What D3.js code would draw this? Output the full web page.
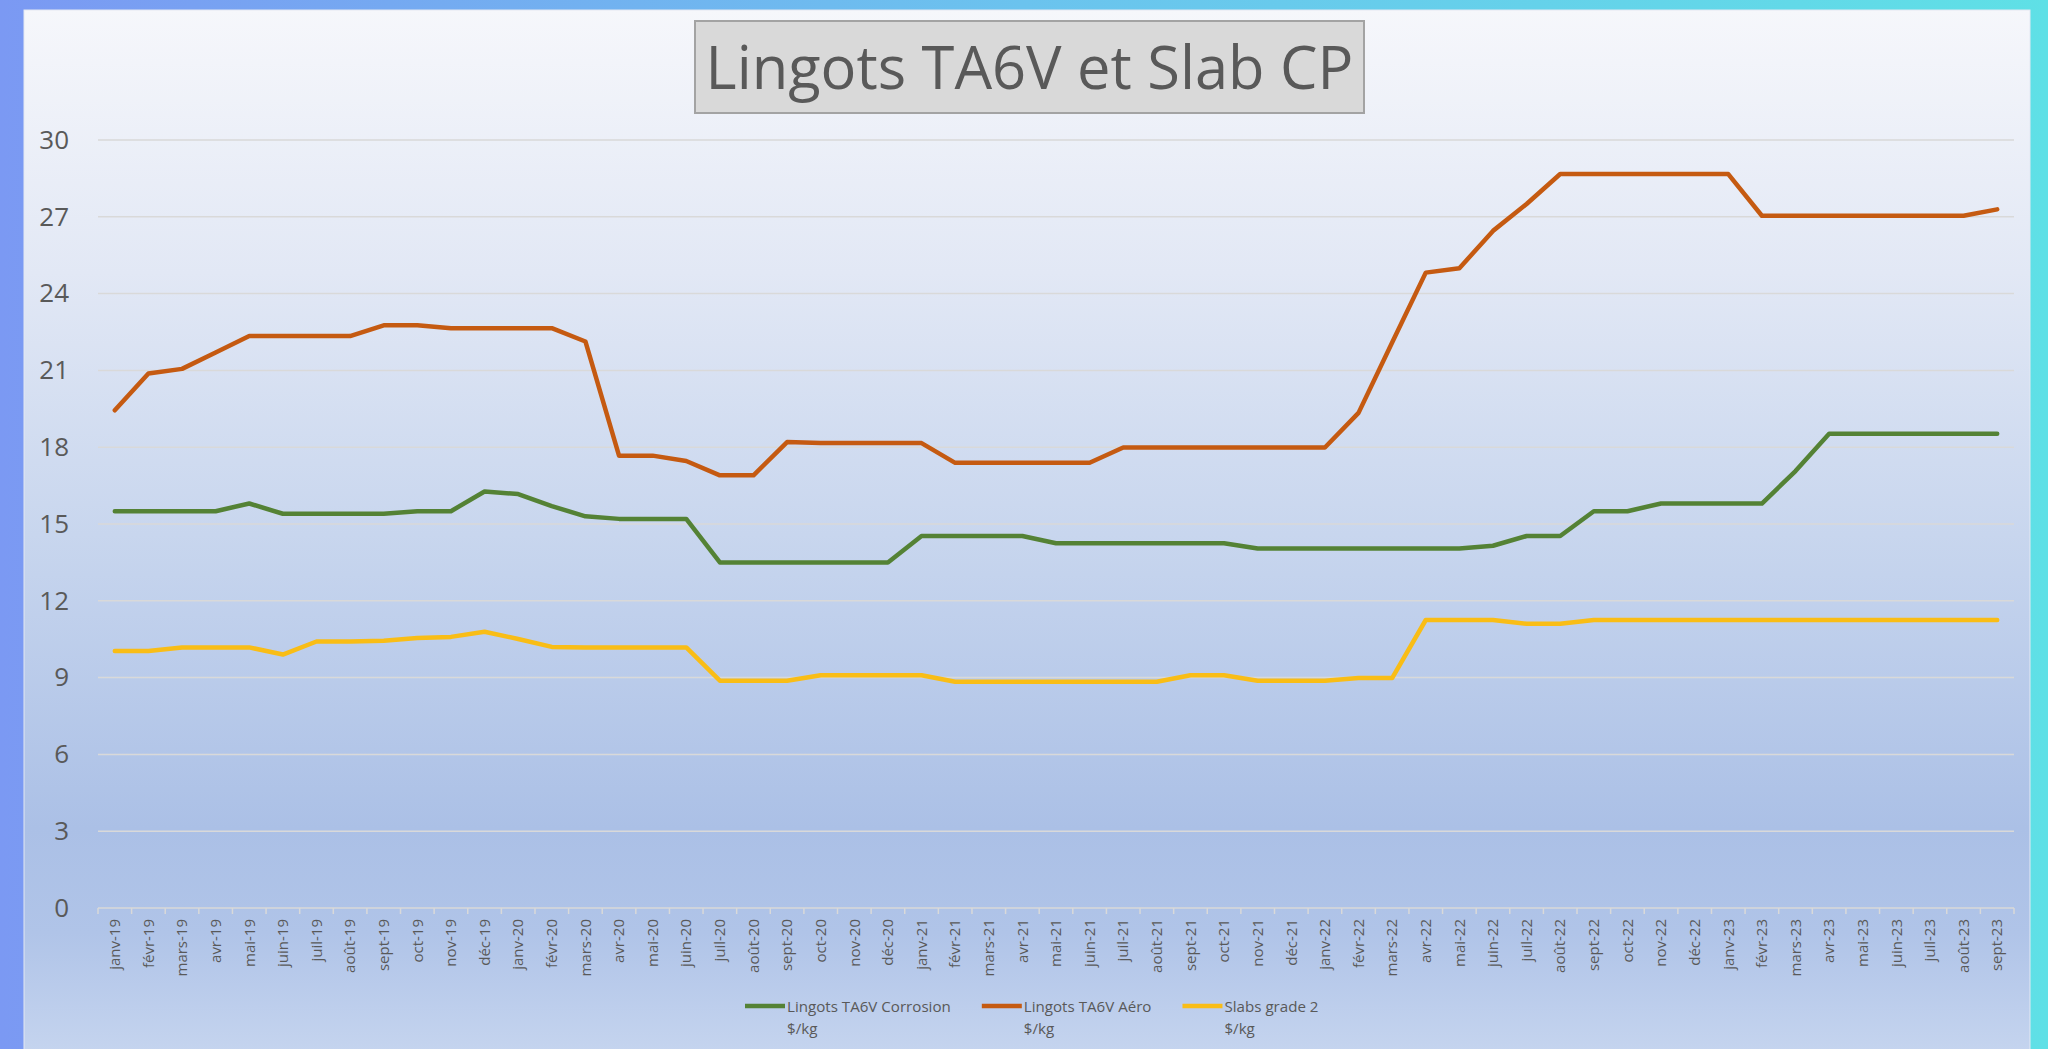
<!DOCTYPE html>
<html>
<head>
<meta charset="utf-8">
<script src="https://cdn.jsdelivr.net/npm/d3@7"></script>
<style>
  body { margin: 0; overflow: hidden; }
  text { font-family: "Open Sans", sans-serif; }
</style>
</head>
<body>
<script>
// month labels (x axis)
const months = [
  "janv-19","févr-19","mars-19","avr-19","mai-19","juin-19","juil-19","août-19","sept-19","oct-19","nov-19","déc-19",
  "janv-20","févr-20","mars-20","avr-20","mai-20","juin-20","juil-20","août-20","sept-20","oct-20","nov-20","déc-20",
  "janv-21","févr-21","mars-21","avr-21","mai-21","juin-21","juil-21","août-21","sept-21","oct-21","nov-21","déc-21",
  "janv-22","févr-22","mars-22","avr-22","mai-22","juin-22","juil-22","août-22","sept-22","oct-22","nov-22","déc-22",
  "janv-23","févr-23","mars-23","avr-23","mai-23","juin-23","juil-23","août-23","sept-23"
];

// $/kg
const corrosion = [
  15.5, 15.5, 15.5, 15.5, 15.8, 15.4, 15.4, 15.4, 15.4, 15.5, 15.5, 16.27,
  16.17, 15.7, 15.3, 15.2, 15.2, 15.2, 13.5, 13.5, 13.5, 13.5, 13.5, 13.5,
  14.53, 14.53, 14.53, 14.53, 14.25, 14.25, 14.25, 14.25, 14.25, 14.25, 14.04, 14.04,
  14.04, 14.04, 14.04, 14.04, 14.04, 14.15, 14.53, 14.53, 15.5, 15.5, 15.8, 15.8,
  15.8, 15.8, 17.07, 18.53, 18.53, 18.53, 18.53, 18.53, 18.53
];
const aero = [
  19.44, 20.88, 21.06, 21.7, 22.34, 22.34, 22.34, 22.34, 22.76, 22.76, 22.65, 22.65,
  22.65, 22.65, 22.13, 17.67, 17.67, 17.46, 16.9, 16.9, 18.2, 18.16, 18.16, 18.16,
  18.16, 17.39, 17.39, 17.39, 17.39, 17.39, 17.99, 17.99, 17.99, 17.99, 17.99, 17.99,
  17.99, 19.34, 22.09, 24.82, 24.99, 26.45, 27.5, 28.67, 28.67, 28.67, 28.67, 28.67,
  28.67, 27.04, 27.04, 27.04, 27.04, 27.04, 27.04, 27.04, 27.29
];
const slabs = [
  10.04, 10.04, 10.18, 10.18, 10.18, 9.9, 10.41, 10.41, 10.44, 10.55, 10.59, 10.79,
  10.51, 10.2, 10.18, 10.18, 10.18, 10.18, 8.88, 8.88, 8.88, 9.09, 9.09, 9.09,
  9.09, 8.84, 8.84, 8.84, 8.84, 8.84, 8.84, 8.84, 9.09, 9.09, 8.88, 8.88,
  8.88, 8.98, 8.98, 11.25, 11.25, 11.25, 11.1, 11.1, 11.25, 11.25, 11.25, 11.25,
  11.25, 11.25, 11.25, 11.25, 11.25, 11.25, 11.25, 11.25, 11.25
];

const yTicks = [0, 3, 6, 9, 12, 15, 18, 21, 24, 27, 30];
const seriesNames = ["Lingots TA6V Corrosion", "Lingots TA6V Aéro", "Slabs grade 2"];
const unitLabel = "$/kg";
const titleText = "Lingots TA6V et Slab CP";

const series = [
  { name: seriesNames[0], values: corrosion, color: "#548235" },
  { name: seriesNames[1], values: aero, color: "#c55a11" },
  { name: seriesNames[2], values: slabs, color: "#f9bd16" }
];

const W = 2048, H = 1049;
const svg = d3.select("body").append("svg")
    .attr("width", W)
    .attr("height", H);

const defs = svg.append("defs");
const outer = defs.append("linearGradient").attr("id", "outerGrad")
    .attr("x1", 0).attr("y1", 0).attr("x2", 1).attr("y2", 0);
outer.append("stop").attr("offset", 0).attr("stop-color", "#7b99f3");
outer.append("stop").attr("offset", 0.5).attr("stop-color", "#6bc3ee");
outer.append("stop").attr("offset", 1).attr("stop-color", "#5fe0e6");

const inner = defs.append("linearGradient").attr("id", "innerGrad")
    .attr("x1", 0).attr("y1", 0).attr("x2", 0).attr("y2", 1);
[[0, "#f6f7fb"], [0.25, "#e2e8f5"], [0.5, "#c8d6ee"], [0.78, "#abc0e6"], [0.88, "#b0c4e8"], [1, "#c6d5ef"]]
  .forEach(s => inner.append("stop").attr("offset", s[0]).attr("stop-color", s[1]));

svg.append("rect").attr("width", W).attr("height", H).attr("fill", "url(#outerGrad)");
svg.append("rect")
    .attr("x", 24).attr("y", 10)
    .attr("width", 2006).attr("height", H)
    .attr("fill", "url(#innerGrad)")
    .attr("stroke", "#e4e8f2").attr("stroke-width", 1);

// scales
const x = d3.scaleBand().domain(months).range([98, 2014]);
const y = d3.scaleLinear().domain([0, 30]).range([908, 140]);

// gridlines
svg.append("g").selectAll("line")
    .data(yTicks.filter(d => d > 0))
    .enter().append("line")
    .attr("x1", 98).attr("x2", 2014)
    .attr("y1", d => y(d)).attr("y2", d => y(d))
    .attr("stroke", "#d9d9d9")
    .attr("stroke-width", 1.5);

// y axis labels
const yAxis = svg.append("g")
    .attr("transform", "translate(98,0)")
    .call(d3.axisLeft(y).tickValues(yTicks).tickSize(0).tickPadding(29));
yAxis.select(".domain").remove();
yAxis.selectAll("text")
    .style("font-family", '"Open Sans", sans-serif')
    .style("font-size", "26px")
    .attr("fill", "#595959");

// x axis line + ticks between categories
svg.append("line")
    .attr("x1", 98).attr("x2", 2014)
    .attr("y1", y(0)).attr("y2", y(0))
    .attr("stroke", "#d9d9d9").attr("stroke-width", 1.5);
svg.append("g").selectAll("line")
    .data(months.map(m => x(m)).concat([2014]))
    .enter().append("line")
    .attr("x1", d => d).attr("x2", d => d)
    .attr("y1", y(0)).attr("y2", y(0) + 6)
    .attr("stroke", "#d9d9d9").attr("stroke-width", 1.5);

svg.append("g").selectAll("text")
    .data(months)
    .enter().append("text")
    .attr("transform", d => `translate(${x(d) + x.bandwidth() / 2},${y(0) + 11}) rotate(-90)`)
    .attr("dy", "0.35em")
    .attr("text-anchor", "end")
    .style("font-size", "15px")
    .attr("fill", "#595959")
    .text(d => d);

// lines
const line = d3.line()
    .x((d, i) => x(months[i]) + x.bandwidth() / 2)
    .y(d => y(d));

svg.append("g").selectAll("path")
    .data(series)
    .enter().append("path")
    .attr("d", d => line(d.values))
    .attr("fill", "none")
    .attr("stroke", d => d.color)
    .attr("stroke-width", 4.5)
    .attr("stroke-linejoin", "round")
    .attr("stroke-linecap", "round");

// title
svg.append("rect")
    .attr("x", 695).attr("y", 21)
    .attr("width", 669).attr("height", 92)
    .attr("fill", "#d9d9d9")
    .attr("stroke", "#a3a3a3").attr("stroke-width", 2);
const title = svg.append("text")
    .attr("x", 1029.5).attr("y", 89)
    .attr("text-anchor", "middle")
    .attr("fill", "#595959")
    .style("font-size", "60px")
    .text(titleText);
const tw = title.node().getComputedTextLength();
title.style("font-size", (60 * 648 / tw) + "px");

// legend
const legend = svg.append("g");
const items = legend.selectAll("g")
    .data(series)
    .enter().append("g");
items.append("line")
    .attr("x1", 0).attr("x2", 40)
    .attr("y1", 1006).attr("y2", 1006)
    .attr("stroke", d => d.color)
    .attr("stroke-width", 4.5);
const lt = items.append("text")
    .attr("x", 42).attr("y", 1011.5)
    .attr("fill", "#595959")
    .style("font-size", "15px")
    .text(d => d.name);
items.append("text")
    .attr("x", 42).attr("y", 1034)
    .attr("fill", "#595959")
    .style("font-size", "15px")
    .text(unitLabel);

// size legend text to the reference width of the first entry
const w0 = lt.nodes()[0].getComputedTextLength();
const fs = 15 * 164 / w0;
items.selectAll("text").style("font-size", fs + "px");
let cx = 745;
items.each(function () {
  const g = d3.select(this);
  g.attr("transform", `translate(${cx},0)`);
  const tw2 = g.select("text").node().getComputedTextLength();
  cx += 42 + tw2 + 31;
});
</script>
</body>
</html>
